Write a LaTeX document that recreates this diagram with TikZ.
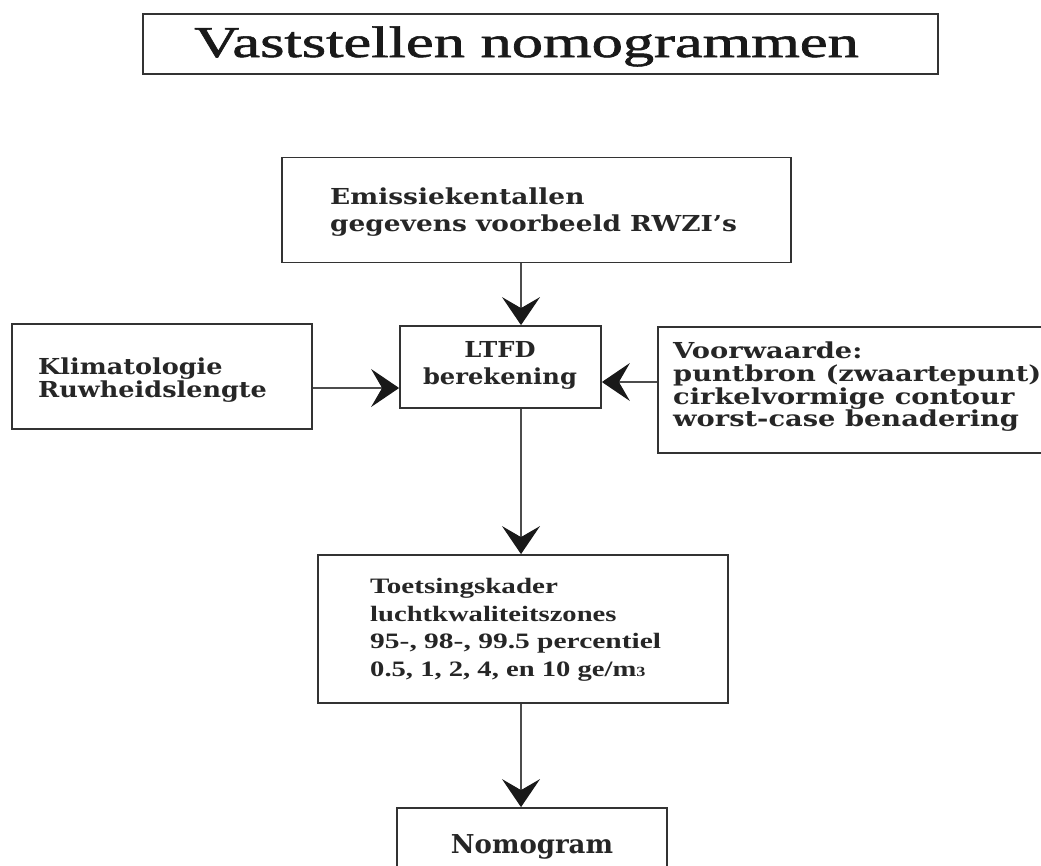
\documentclass[tikz,border=0pt]{standalone}
\usepackage{fontspec}
\setmainfont{DejaVu Serif}
\newfontfamily\titlefont[FakeBold=1.2]{Liberation Serif}
\newfontfamily\garafont{Liberation Serif}
\usetikzlibrary{arrows.meta}
\newcommand\hsc[2]{\scalebox{#1}[1]{#2}}
\tikzset{
  box/.style={draw=black!80, line width=1.8pt, rectangle, inner sep=0pt},
  conn/.style={draw=black!70, line width=1.2pt},
  arr/.style={conn, -{Stealth[length=28pt, width=38pt, inset=11pt, color=black!90]}},
  bodytxt/.style={inner sep=0pt, font=\bfseries\fontsize{22}{26}\selectfont, text=black!85},
  garatxt/.style={inner sep=0pt, font=\garafont\bfseries\fontsize{22}{26}\selectfont, text=black!85},
}
\begin{document}
\begin{tikzpicture}[x=1pt,y=-1pt]
\useasboundingbox (0,0) rectangle (1041,865);
% boxes
\node[box, minimum width=795pt, minimum height=60pt] (title) at (540.5,44) {};
\node[box, minimum width=509pt, minimum height=105pt] (emis) at (536.5,210) {};
\node[box, minimum width=201pt, minimum height=82pt] (ltfd) at (500.5,367) {};
\node[box, minimum width=300pt, minimum height=105pt] (klim) at (162,376.5) {};
\node[box, minimum width=402pt, minimum height=126pt] (voor) at (859,390) {};
\node[box, minimum width=410pt, minimum height=148pt] (toets) at (523,629) {};
\node[box, minimum width=270pt, minimum height=92pt] (nomo) at (532,854) {};
% texts
\node[inner sep=0pt, anchor=base west, font=\titlefont\fontsize{44}{48}\selectfont, text=black!90] (titleT) at (194,57) {\hsc{1.42}{Vaststellen nomogrammen}};
\node[bodytxt, anchor=base west] (emisA) at (330,204) {\hsc{1.2}{Emissiekentallen}};
\node[bodytxt, anchor=base west] (emisB) at (330,231) {\hsc{1.2}{gegevens voorbeeld RWZI's}};
\node[bodytxt, anchor=base] (ltfdA) at (500,357) {\hsc{1.1}{LTFD}};
\node[bodytxt, anchor=base] (ltfdB) at (500,384) {\hsc{1.1}{berekening}};
\node[bodytxt, anchor=base west] (klimA) at (38,374) {\hsc{1.16}{Klimatologie}};
\node[bodytxt, anchor=base west] (klimB) at (38,397) {\hsc{1.16}{Ruwheidslengte}};
\node[bodytxt, anchor=base west] (voorA) at (673,358) {\hsc{1.24}{Voorwaarde:}};
\node[bodytxt, anchor=base west] (voorB) at (673,381) {\hsc{1.24}{puntbron (zwaartepunt)}};
\node[bodytxt, anchor=base west] (voorC) at (673,404) {\hsc{1.24}{cirkelvormige contour}};
\node[bodytxt, anchor=base west] (voorD) at (673,426) {\hsc{1.24}{worst-case benadering}};
\node[garatxt, anchor=base west] (toetsA) at (370,593) {\hsc{1.32}{Toetsingskader}};
\node[garatxt, anchor=base west] (toetsB) at (370,621) {\hsc{1.3}{luchtkwaliteitszones}};
\node[garatxt, anchor=base west] (toetsC) at (370,648) {\hsc{1.34}{95-, 98-, 99.5 percentiel}};
\node[garatxt, anchor=base west] (toetsD) at (370,676) {\hsc{1.3}{0.5, 1, 2, 4, en 10 ge/m{\fontsize{14}{14}\selectfont 3}}};
\node[bodytxt, anchor=base, font=\bfseries\fontsize{26}{30}\selectfont] (nomoA) at (532,853) {Nomogram};
% connector guides
\coordinate (vx) at (521,0);
\coordinate (hk) at (0,388);
\coordinate (hv) at (0,382);
\draw[arr] (emis.south -| vx) -- (ltfd.north -| vx);
\draw[arr] (klim.east |- hk) -- (ltfd.west |- hk);
\draw[arr] (voor.west |- hv) -- (ltfd.east |- hv);
\draw[arr] (ltfd.south -| vx) -- (toets.north -| vx);
\draw[arr] (toets.south -| vx) -- (nomo.north -| vx);
\end{tikzpicture}
\end{document}
